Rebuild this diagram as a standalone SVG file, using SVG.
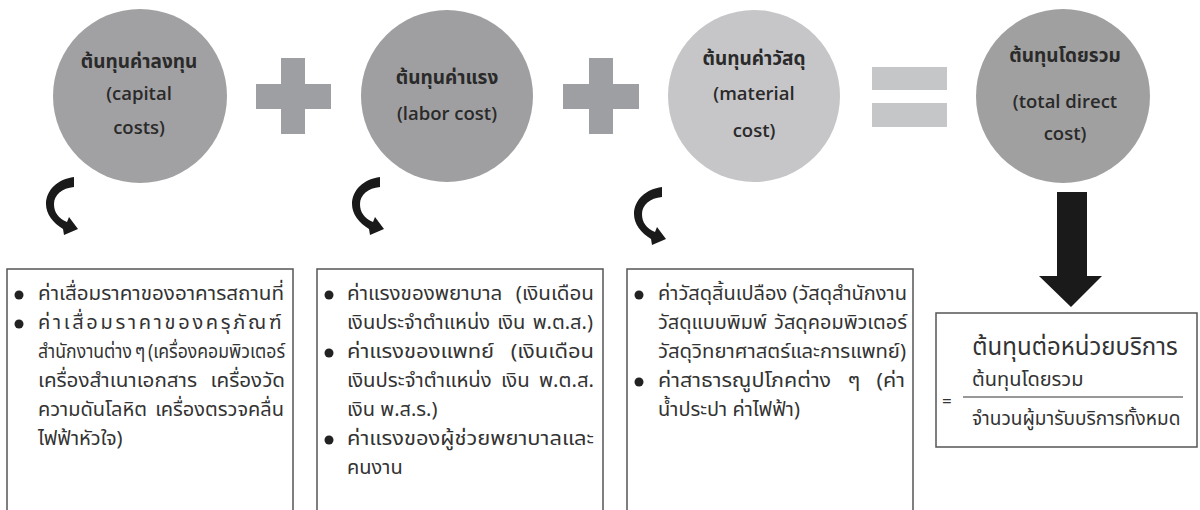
<svg xmlns="http://www.w3.org/2000/svg" width="1200" height="510" viewBox="0 0 1200 510">
<style>
.ct{font-family:"Open Sans","Noto Sans Thai","Noto Sans",sans-serif;font-weight:600;font-size:18.5px;fill:#2a2a2a;text-anchor:middle}
.th{font-size:19px;font-weight:bold}
.bt{font-family:"Noto Sans Thai","Noto Sans",sans-serif;font-size:20px;fill:#333}
.box{fill:none;stroke:#555;stroke-width:1.5}
.bul{fill:#222}
.op{fill:#9e9fa3}
.eq{fill:#c5c6c8}
</style>
<defs>
<path id="carrow" d="M74,177 C58,179 46,190 46,204 C46,214 53,223 63,229 L64,235 L78,229 L69,217 L67,222 C58,218 54,212 54,204 C54,195 62,188 74,187 Z" fill="#1a1a1a"/>
</defs>
<rect width="1200" height="510" fill="#fff"/>

<g id="capital">
<circle cx="140" cy="96" r="87" fill="#a1a1a3"/>
<text class="ct th" x="139" y="68">ต้นทุนค่าลงทุน</text>
<text class="ct" x="139" y="100">(capital</text>
<text class="ct" x="139" y="134">costs)</text>
</g>
<g id="plus1">
<rect class="op" x="256" y="84" width="75" height="25"/>
<rect class="op" x="281" y="58" width="24" height="76"/>
</g>
<g id="labor">
<circle cx="447" cy="96" r="86" fill="#9f9fa1"/>
<text class="ct th" x="447" y="84">ต้นทุนค่าแรง</text>
<text class="ct" x="447" y="120">(labor cost)</text>
</g>
<g id="plus2">
<rect class="op" x="563" y="84" width="76" height="25"/>
<rect class="op" x="589" y="58" width="24" height="76"/>
</g>
<g id="material">
<circle cx="754" cy="96" r="86" fill="#c6c6c8"/>
<text class="ct th" x="754" y="65">ต้นทุนค่าวัสดุ</text>
<text class="ct" x="754" y="100">(material</text>
<text class="ct" x="754" y="137">cost)</text>
</g>
<g id="equals">
<rect class="eq" x="872" y="67" width="75" height="23"/>
<rect class="eq" x="872" y="103" width="75" height="24"/>
</g>
<g id="total">
<circle cx="1063" cy="96" r="87" fill="#a0a0a0"/>
<text class="ct th" x="1065" y="62">ต้นทุนโดยรวม</text>
<text class="ct" x="1065" y="108">(total direct</text>
<text class="ct" x="1065" y="140">cost)</text>
</g>

<g id="connectors">
<use href="#carrow"/>
<use href="#carrow" transform="translate(306,0)"/>
<use href="#carrow" transform="translate(588,10)"/>
<path d="M1057,192 H1087 V276 H1102 L1071,307 L1039,276 H1057 Z" fill="#1a1a1a"/>
</g>

<g id="box-capital">
<path class="box" d="M7,520 V269 H293 V520"/>
<circle class="bul" cx="19" cy="295" r="4.5"/>
<circle class="bul" cx="19" cy="324" r="4.5"/>
<text class="bt" x="38" y="300" textLength="246" lengthAdjust="spacingAndGlyphs">ค่าเสื่อมราคาของอาคารสถานที่</text>
<text class="bt" x="38" y="329" style="letter-spacing:2.7px">ค่าเสื่อมราคาของครุภัณฑ์</text>
<text class="bt" x="38" y="358" textLength="247" lengthAdjust="spacingAndGlyphs" style="font-size:19px;word-spacing:-2px">สำนักงานต่าง ๆ (เครื่องคอมพิวเตอร์</text>
<text class="bt" x="38" y="387" textLength="247" lengthAdjust="spacingAndGlyphs" style="word-spacing:8px">เครื่องสำเนาเอกสาร เครื่องวัด</text>
<text class="bt" x="38" y="416" textLength="246" lengthAdjust="spacingAndGlyphs" style="word-spacing:3px">ความดันโลหิต เครื่องตรวจคลื่น</text>
<text class="bt" x="38" y="445">ไฟฟ้าหัวใจ)</text>
</g>

<g id="box-labor">
<path class="box" d="M317,520 V269 H603 V520"/>
<circle class="bul" cx="329" cy="295" r="4.5"/>
<circle class="bul" cx="329" cy="353" r="4.5"/>
<circle class="bul" cx="329" cy="440" r="4.5"/>
<text class="bt" x="347" y="300" textLength="247" lengthAdjust="spacingAndGlyphs" style="word-spacing:8px">ค่าแรงของพยาบาล (เงินเดือน</text>
<text class="bt" x="347" y="329" textLength="246" lengthAdjust="spacingAndGlyphs" style="word-spacing:2px">เงินประจำตำแหน่ง เงิน พ.ต.ส.)</text>
<text class="bt" x="347" y="358" textLength="247" lengthAdjust="spacingAndGlyphs" style="word-spacing:10px">ค่าแรงของแพทย์ (เงินเดือน</text>
<text class="bt" x="347" y="387" textLength="247" lengthAdjust="spacingAndGlyphs" style="word-spacing:4px">เงินประจำตำแหน่ง เงิน พ.ต.ส.</text>
<text class="bt" x="347" y="416">เงิน พ.ส.ร.)</text>
<text class="bt" x="347" y="445" textLength="247" lengthAdjust="spacingAndGlyphs">ค่าแรงของผู้ช่วยพยาบาลและ</text>
<text class="bt" x="347" y="474">คนงาน</text>
</g>

<g id="box-material">
<path class="box" d="M627,520 V269 H913 V520"/>
<circle class="bul" cx="639" cy="295" r="4.5"/>
<circle class="bul" cx="639" cy="382" r="4.5"/>
<text class="bt" x="658" y="300" textLength="249" lengthAdjust="spacingAndGlyphs">ค่าวัสดุสิ้นเปลือง (วัสดุสำนักงาน</text>
<text class="bt" x="658" y="329" textLength="249" lengthAdjust="spacingAndGlyphs" style="word-spacing:2px">วัสดุแบบพิมพ์ วัสดุคอมพิวเตอร์</text>
<text class="bt" x="658" y="358" textLength="248" lengthAdjust="spacingAndGlyphs">วัสดุวิทยาศาสตร์และการแพทย์)</text>
<text class="bt" x="658" y="387" textLength="247" lengthAdjust="spacingAndGlyphs" style="word-spacing:10px">ค่าสาธารณูปโภคต่าง ๆ (ค่า</text>
<text class="bt" x="658" y="416">น้ำประปา ค่าไฟฟ้า)</text>
</g>

<g id="unit-cost">
<rect class="box" x="936" y="313" width="261" height="134"/>
<text class="bt" x="1075" y="355" style="font-size:24px;text-anchor:middle">ต้นทุนต่อหน่วยบริการ</text>
<text class="bt" x="972" y="386" style="font-size:20px">ต้นทุนโดยรวม</text>
<line x1="963" y1="397" x2="1183" y2="397" stroke="#333" stroke-width="1.2"/>
<text class="bt" x="942" y="407" style="font-size:17px">=</text>
<text class="bt" x="972" y="425" style="font-size:19px">จำนวนผู้มารับบริการทั้งหมด</text>
</g>
</svg>
